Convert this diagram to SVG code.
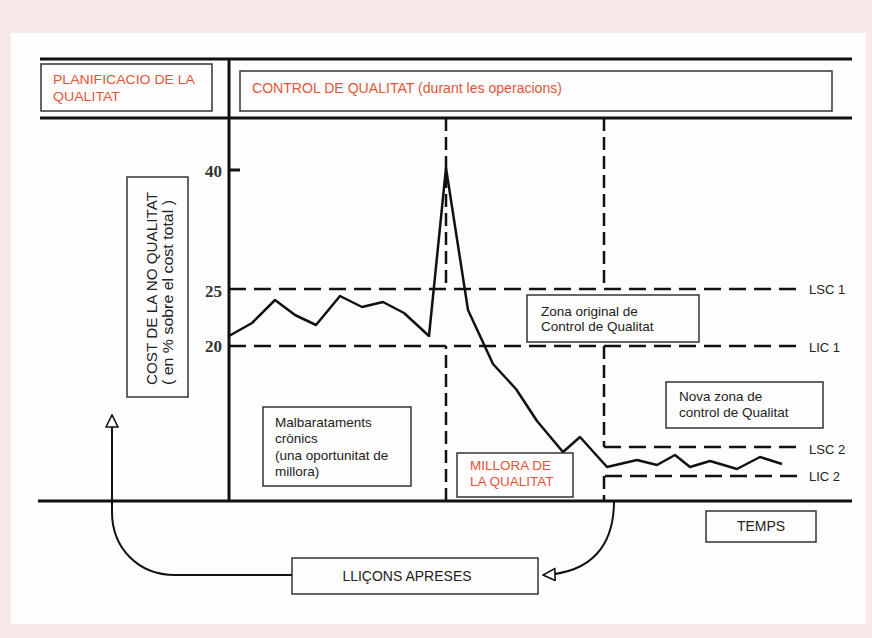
<svg xmlns="http://www.w3.org/2000/svg" width="872" height="638" viewBox="0 0 872 638">
  <style>
    .axis { stroke: #111; stroke-width: 3; fill: none; }
    .box { fill: #fdfdfd; stroke: #333; stroke-width: 1.5; }
    .dash-h { stroke: #111; stroke-width: 2.5; fill: none; stroke-dasharray: 17 8; }
    .dash-v { stroke: #111; stroke-width: 2.5; fill: none; stroke-dasharray: 13 6; }
    .curve { stroke: #111; stroke-width: 2.5; fill: none; stroke-linejoin: round; }
    .link { stroke: #111; stroke-width: 2; fill: none; }
    .t { font-family: "Liberation Sans", Arial, sans-serif; fill: #222; }
    .red { font-family: "Liberation Sans", Arial, sans-serif; fill: #e2553a; }
    .num { font-family: "Liberation Serif", "Times New Roman", serif; font-weight: bold; fill: #333; font-size: 17px; }
  </style>
  <defs>
    <marker id="open-arrow" markerUnits="userSpaceOnUse" markerWidth="14" markerHeight="14" refX="12" refY="6" orient="auto" viewBox="-1 -1 14 14">
      <path d="M0,0 L12,6 L0,12 Z" fill="#fff" stroke="#111" stroke-width="1.6"/>
    </marker>
  </defs>

  <!-- page -->
  <rect x="0" y="0" width="872" height="638" fill="#f7e9ea"/>
  <rect x="11" y="33" width="855" height="591" fill="#fdfdfd"/>

  <!-- frame lines -->
  <g id="frame">
    <line class="axis" x1="40" y1="59" x2="852" y2="59"/>
    <line class="axis" x1="40" y1="118" x2="852" y2="118"/>
    <line class="axis" x1="38" y1="501" x2="852" y2="501"/>
    <line class="axis" x1="229" y1="59" x2="229" y2="501"/>
    <line class="axis" x1="229" y1="170" x2="240" y2="170"/>
  </g>

  <!-- control limits and phase separators -->
  <g id="limits">
    <path class="dash-h" d="M229,289 H797"/>
    <path class="dash-h" d="M229,346 H797"/>
    <path class="dash-v" d="M446,118 V289"/>
    <path class="dash-v" d="M446,501 V346"/>
    <path class="dash-v" d="M604,118 V289"/>
    <path class="dash-v" d="M604,346 V447"/>
    <path class="dash-h" d="M604,447 H797"/>
    <path class="dash-h" d="M797,476 H604"/>
    <path class="dash-v" d="M604,476 V501"/>
  </g>

  <!-- cost of poor quality over time -->
  <g id="cost-curve">
    <polyline class="curve" points="229,336 252,323 275,300 295,315 316,325 340,296 362,307 383,302 404,313 429,336 446,168 468,310 493,364 516,389 537,421 563,452 580,437 607,467 637,460 657,465 675,455 690,467 710,461 737,469 760,457 782,464"/>
  </g>

  <!-- y-axis values -->
  <g id="y-values">
    <text class="num" x="205" y="177">40</text>
    <text class="num" x="205" y="297">25</text>
    <text class="num" x="205" y="352">20</text>
  </g>

  <!-- limit labels -->
  <g id="limit-labels" class="t" font-size="13">
    <text x="809" y="294">LSC 1</text>
    <text x="809" y="352">LIC 1</text>
    <text x="809" y="454">LSC 2</text>
    <text x="809" y="481">LIC 2</text>
  </g>

  <g id="planificacio">
    <rect class="box" x="41" y="64" width="171" height="47"/>
    <text class="red" font-size="13.5" x="53" y="84" textLength="142" lengthAdjust="spacingAndGlyphs">PLANIFICACIO DE LA</text>
    <text class="red" font-size="13.5" x="53" y="101" textLength="67" lengthAdjust="spacingAndGlyphs">QUALITAT</text>
  </g>

  <g id="control">
    <rect class="box" x="240" y="71" width="592" height="40"/>
    <text class="red" font-size="14" x="252" y="93" textLength="310" lengthAdjust="spacingAndGlyphs">CONTROL DE QUALITAT (durant les operacions)</text>
  </g>

  <g id="cost-axis-title">
    <rect class="box" x="127" y="177" width="61" height="220"/>
    <text class="t" font-size="15" transform="translate(157,385) rotate(-90)" textLength="193" lengthAdjust="spacingAndGlyphs">COST DE LA NO QUALITAT</text>
    <text class="t" font-size="14" transform="translate(173,385) rotate(-90)" textLength="185" lengthAdjust="spacingAndGlyphs">( en % sobre el cost total )</text>
  </g>

  <g id="zona-original">
    <rect class="box" x="527" y="295" width="172" height="47"/>
    <text class="t" font-size="13.5" x="541" y="316">Zona original de</text>
    <text class="t" font-size="13.5" x="541" y="331">Control de Qualitat</text>
  </g>

  <g id="nova-zona">
    <rect class="box" x="666" y="382" width="157" height="46"/>
    <text class="t" font-size="13.5" x="679" y="401">Nova zona de</text>
    <text class="t" font-size="13.5" x="679" y="417">control de Qualitat</text>
  </g>

  <g id="malbarataments">
    <rect class="box" x="263" y="407" width="148" height="79"/>
    <text class="t" font-size="13.5" x="275" y="427">Malbarataments</text>
    <text class="t" font-size="13.5" x="275" y="443">crònics</text>
    <text class="t" font-size="13.5" x="275" y="460">(una oportunitat de</text>
    <text class="t" font-size="13.5" x="275" y="476">millora)</text>
  </g>

  <g id="millora">
    <rect class="box" x="457" y="453" width="116" height="44"/>
    <text class="red" font-size="13.5" x="470" y="470">MILLORA DE</text>
    <text class="red" font-size="13.5" x="470" y="486">LA QUALITAT</text>
  </g>

  <g id="temps">
    <rect class="box" x="706" y="511" width="110" height="31"/>
    <text class="t" font-size="14" x="761" y="531" text-anchor="middle">TEMPS</text>
  </g>

  <g id="llicons">
    <rect class="box" x="292" y="558" width="246" height="36"/>
    <text class="t" font-size="14" x="407" y="581" text-anchor="middle">LLIÇONS APRESES</text>
  </g>

  <!-- feedback loop -->
  <g id="connectors">
    <path class="link" d="M614,501 C614,545 592,573 543,575" marker-end="url(#open-arrow)"/>
    <path class="link" d="M292,575 H175 C138,575 112,548 112,512 V415" marker-end="url(#open-arrow)"/>
  </g>
</svg>
